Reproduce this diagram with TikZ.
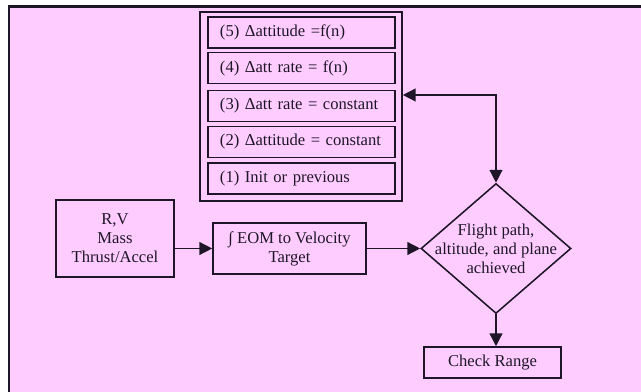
\documentclass[tikz,border=0pt]{standalone}
\usepackage{fontspec}
\setmainfont{Liberation Serif}
\usepackage{tikz}
\usetikzlibrary{shapes.geometric, arrows.meta}
\definecolor{fdpink}{RGB}{255, 204, 255}
\definecolor{fdink}{RGB}{30, 22, 40}

\begin{document}
\begin{tikzpicture}[x=0.025cm, y=-0.025cm,
  font=\fontsize{11.8}{13.6}\selectfont, text=fdink,
  >={Triangle[length=0.32cm, width=0.32cm]},
  box/.style={draw=fdink, line width=1.1pt, inner sep=0pt, align=center},
  stepbox/.style={box, text width=4.075cm, inner xsep=0.3cm, minimum height=0.775cm, align=left},
  flow/.style={draw=fdink, line width=1pt}]
\useasboundingbox (0,0) rectangle (641,392);
% Page background
\fill[fdpink] (8,6) rectangle (641,392);
\draw[fdink, line width=1.6pt] (9,392) -- (9,6.5) -- (641,6.5);

% Steps group
\node[box, minimum width=5.05cm, minimum height=4.725cm] (steps) at (301,106.5) {};
\node[stepbox] (s5) at (301.5,32.5) {(5) Δattitude =f(n)};
\node[stepbox] (s4) at (301.5,68) {(4) Δatt rate = f(n)};
\node[stepbox] (s3) at (301.5,106) {(3) Δatt rate = constant};
\node[stepbox] (s2) at (301.5,142) {(2) Δattitude = constant};
\node[stepbox] (s1) at (301.5,178.5) {(1) Init or previous};

% Main flow
\node[box, minimum width=2.95cm, minimum height=1.925cm] (rv) at (115,238.5) {R,V\\Mass\\Thrust/Accel};
\node[box, minimum width=3.825cm, minimum height=1.275cm] (eom) at (289.5,248.5) {∫ EOM to Velocity\\Target};
\node[draw=fdink, line width=1.1pt, shape=diamond, minimum width=3.75cm, minimum height=3.25cm, inner sep=0pt,
  label={[align=center]center:{Flight path,\\altitude, and plane\\achieved}}] (dec) at (496,248.5) {};
\node[box, minimum width=3.425cm, minimum height=0.775cm] (chk) at (492.5,362.5) {Check Range};

% Connectors
\coordinate (fb) at (496,95);
\draw[flow, ->] (rv.east |- eom.west) -- (eom.west);
\draw[flow, ->] (eom.east) -- (dec.west);
\draw[flow, ->] (dec.south) -- (dec.south |- chk.north);
\draw[flow, <->] (steps.east |- fb) -- (fb) -- (dec.north);
\end{tikzpicture}
\end{document}
